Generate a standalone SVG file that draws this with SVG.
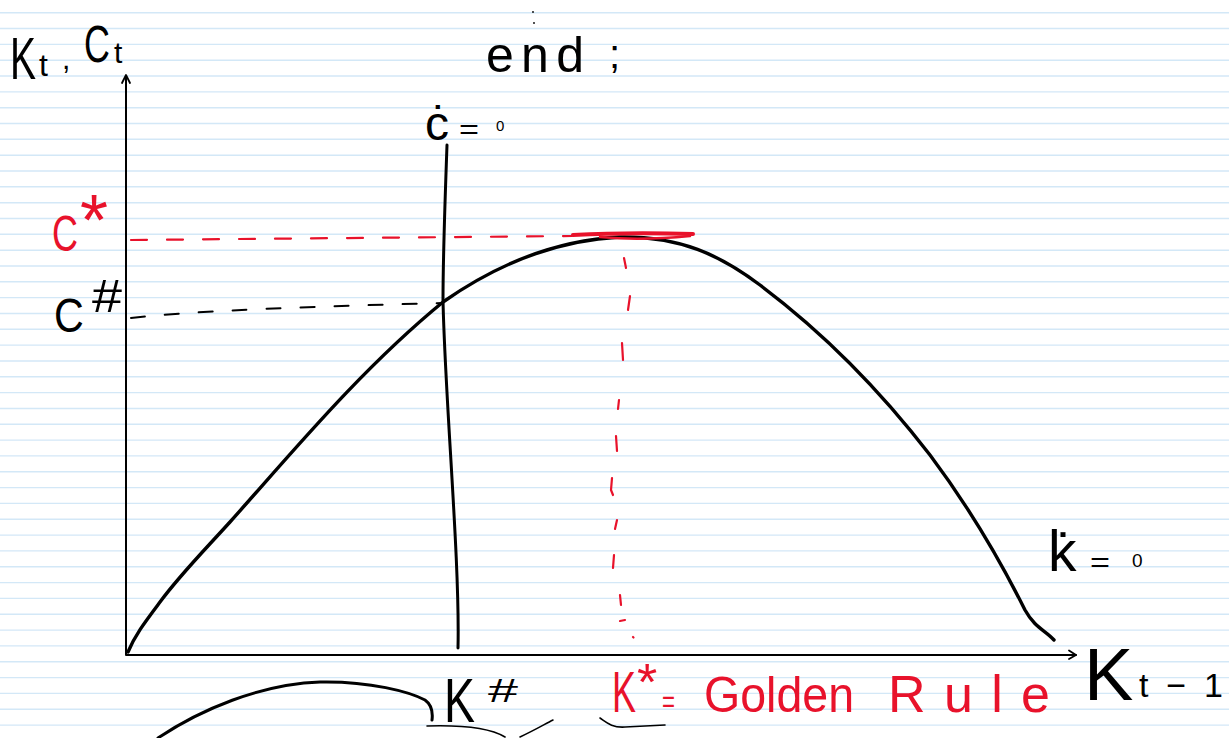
<svg xmlns="http://www.w3.org/2000/svg" width="1229" height="738" viewBox="0 0 1229 738">
<defs>
<style>
.ln{stroke:#d3e8f7;stroke-width:1.4;fill:none}
.ink{stroke:#000;fill:none;stroke-linecap:round;stroke-linejoin:round}
.red{stroke:#e8122b;fill:none;stroke-linecap:round;stroke-linejoin:round}
.t{font-family:"Liberation Sans",Arial,sans-serif;fill:#000}
.tr{font-family:"Liberation Sans",Arial,sans-serif;fill:#e8122b}
</style>
</defs>
<rect width="1229" height="738" fill="#fff"/>
<g id="paper-lines">
<path class="ln" d="M0,12.7H1229M0,28.5H1229M0,44.4H1229M0,60.2H1229M0,76H1229M0,91.9H1229M0,107.7H1229M0,123.5H1229M0,139.3H1229M0,155.2H1229M0,171H1229M0,186.8H1229M0,202.7H1229M0,218.5H1229M0,234.3H1229M0,250.2H1229M0,266H1229M0,281.8H1229M0,297.6H1229M0,313.5H1229M0,329.3H1229M0,345.1H1229M0,361H1229M0,376.8H1229M0,392.6H1229M0,408.5H1229M0,424.3H1229M0,440.1H1229M0,455.9H1229M0,471.8H1229M0,487.6H1229M0,503.4H1229M0,519.3H1229M0,535.1H1229M0,550.9H1229M0,566.8H1229M0,582.6H1229M0,598.4H1229M0,614.2H1229M0,630.1H1229M0,645.9H1229M0,661.7H1229M0,677.6H1229M0,693.4H1229M0,709.2H1229M0,725.1H1229"/>
</g>
<g id="axes">
<path class="ink" stroke-width="2" d="M126,76V655H1076"/>
<path class="ink" stroke-width="1.8" d="M122,83L126,75L130,83"/>
<path class="ink" stroke-width="1.8" d="M1069,650.5L1076,655L1069,659"/>
</g>
<g id="guides">
<path class="red" stroke-width="2.2" stroke-dasharray="16 20" d="M131,240L572,236"/>
<path class="ink" stroke-width="2" stroke-dasharray="14 20" d="M131,318C200,310 330,306 443,303"/>
<g class="red" stroke-width="2.2">
<path d="M624,258L626,268"/><path d="M630,296L628,310"/><path d="M622,343L623,360"/><path d="M619,400L618,409"/><path d="M616,436L617,451"/><path d="M612,478L611,490L613,495"/><path d="M617,520L615,529"/><path d="M614,555L613,568"/><path d="M620,595L621,605"/><path d="M620,621L625,620"/><path d="M633,637L633.5,637.5"/>
</g>
</g>
<g id="curve-c0">
<path class="ink" stroke-width="3" d="M447,145C445,200 443,260 443,300C445,400 460,560 458,648"/>
</g>
<g id="curve-k0">
<path class="ink" stroke-width="3.4" d="M128,652C135,635 145,622 160,602C180,575 200,555 230,522C290,455 360,370 443,302C500,262 560,240 620,237C680,236 720,255 760,285C820,330 880,390 930,455C975,515 1005,570 1025,610C1035,628 1045,630 1054,640"/>
</g>
<g id="golden-rule-mark">
<path class="red" stroke-width="4" d="M573,235C610,233 660,233 693,234"/>
<path class="red" stroke-width="2.5" d="M600,237C630,240 660,239 690,236"/>
</g>
<g id="label-axis-y">
<text class="t" transform="matrix(0.65 0 0 1 10 79)" font-size="60">K</text>
<text class="t" x="39" y="76" font-size="32">t</text>
<text class="t" x="62" y="69" font-size="30">,</text>
<text class="t" transform="matrix(0.69 0 0 1 84 62)" font-size="52">C</text>
<text class="t" x="114" y="63" font-size="30">t</text>
</g>
<g id="label-end">
<text class="t" x="486" y="72" font-size="50" textLength="98" lengthAdjust="spacing">end</text>
<text class="t" x="609" y="68" font-size="40">;</text>
<circle cx="533" cy="12" r="0.9" fill="#000"/><circle cx="534" cy="23" r="0.9" fill="#000"/>
</g>
<g id="label-cdot">
<text class="t" x="425" y="140" font-size="48">ċ</text>
<text class="t" x="459" y="139" font-size="28" textLength="20" lengthAdjust="spacingAndGlyphs">=</text>
<text class="t" x="496" y="131" font-size="15">0</text>
</g>
<g id="label-cstar">
<text class="tr" transform="matrix(0.72 0 0 1 52 251)" font-size="50">C</text>
<text class="tr" x="80" y="245" font-size="72">*</text>
</g>
<g id="label-chash">
<text class="t" transform="matrix(0.86 0 0 1 54 332)" font-size="48">C</text>
<text class="t" x="92" y="312" font-size="46" textLength="30" lengthAdjust="spacingAndGlyphs">#</text>
</g>
<g id="label-kdot">
<text class="t" x="1048" y="571" font-size="57">k̇</text>
<text class="t" x="1090" y="572" font-size="28" textLength="20" lengthAdjust="spacingAndGlyphs">=</text>
<text class="t" x="1132" y="567" font-size="19">0</text>
</g>
<g id="label-khash">
<text class="t" transform="matrix(0.8 0 0 1.1 444 722)" font-size="58">K</text>
<text class="t" x="488" y="702" font-size="34" textLength="30" lengthAdjust="spacingAndGlyphs">#</text>
<path class="ink" stroke-width="1.6" d="M427,726C460,725 490,728 505,737M520,737C535,730 545,724 553,720"/>
</g>
<g id="label-kstar">
<text class="tr" transform="matrix(0.62 0 0 1 612 712)" font-size="58">K</text>
<text class="tr" x="637" y="700" font-size="52">*</text>
<text class="tr" x="662" y="712" font-size="32" textLength="13" lengthAdjust="spacingAndGlyphs">=</text>
<text class="tr" x="704" y="712" font-size="50" textLength="150" lengthAdjust="spacingAndGlyphs">Golden</text>
<text class="tr" x="888" y="712" font-size="52" textLength="162" lengthAdjust="spacing">Rule</text>
<path class="ink" stroke-width="1.6" d="M600,718C606,722 612,728 625,727L665,725"/>
</g>
<g id="label-axis-x">
<text class="t" x="1084" y="700" font-size="74">K</text>
<text class="t" x="1139" y="697" font-size="34" textLength="84" lengthAdjust="spacing">t−1</text>
</g>
<g id="brace">
<path class="ink" stroke-width="3" d="M158,738C200,710 260,684 320,682C370,681 410,692 425,700C432,705 433,712 432,720"/>
</g>
</svg>
